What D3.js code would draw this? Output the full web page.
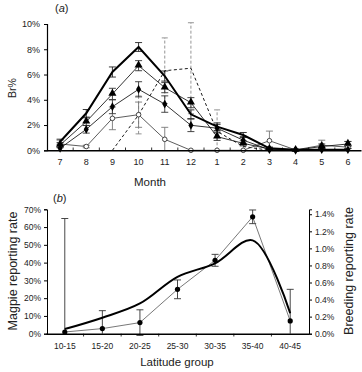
<!DOCTYPE html>
<html><head><meta charset="utf-8">
<script src="https://cdn.jsdelivr.net/npm/d3@7/dist/d3.min.js"></script>
<style>
body{margin:0;background:#fff;}
svg{display:block;font-family:"Liberation Sans",Arial,sans-serif;}
</style></head><body>
<svg id="c" width="362" height="372"></svg>
<script>
// ---------- Panel (a) data ----------
const months = ["7","8","9","10","11","12","1","2","3","4","5","6"];
const yTicksA = [0,2,4,6,8,10];
const thickA    = [0.68,2.93,6.2,8.18,5.88,2.85,1.87,1.21,0.16,0.05,0.05,0.05];
const thickAErr = [0.2,0.3,0.4,0.35,0.4,0.35,0.3,0.2,0.1,0.05,0.1,0.1];
const triA      = [0.42,2.27,4.46,6.7,4.96,3.77,1.08,0.55,0.1,0.02,0.3,0.5];
const triAErr   = [0.2,0.3,0.45,0.4,0.4,0.4,0.3,0.2,0.1,0.05,0.2,0.2];
const diaA      = [0.16,1.66,3.45,4.83,3.66,1.98,1.75,0.8,0.05,0,0.05,0.05];
const diaAErr   = [0.2,0.3,0.55,0.6,0.65,0.5,0.3,0.3,0.1,0.05,0.1,0.1];
const circA     = [0.5,0.3,2.53,2.82,0.87,0,0,0,0.76,0.03,0.4,0.25];
const circAErr  = [0.3,0.1,0.9,1.0,0.95,0,0,0,0.76,0,0.4,0.45];
const dashA     = [null,null,0,2.8,6.3,6.5,1.5,0.3,0,0,0,0];
const dashAErr  = [null,null,0,1.5,2.6,3.6,1.7,0.3,0,0,0,0];

// ---------- Panel (b) data ----------
const latGroups = ["10-15","15-20","20-25","25-30","30-35","35-40","40-45"];
const yTicksL = [0,10,20,30,40,50,60,70];
const yTicksR = [0,0.2,0.4,0.6,0.8,1.0,1.2,1.4];
const magpieRate   = [2.6,9.0,17.0,32.0,39.6,52.5,11.5];
const breedingRate = [0.02,0.06,0.13,0.52,0.86,1.37,0.15];
const breedingErr  = [1.33,0.21,0.15,0.11,0.07,0.08,0.37];

const svg = d3.select("#c");
const F = '"Liberation Sans",Arial,sans-serif';

// ================= Panel (a) =================
const xa = d3.scaleBand().domain(months).range([47,361]);
const ya = d3.scaleLinear().domain([0,10]).range([150.3,24]);
const ga = svg.append("g");

function errBars(g, x, y, vals, errs, color, dash, cap){
  months.forEach((m,i)=>{
    if(vals[i]==null || errs[i]==null || errs[i]===0) return;
    const cx = x(m)+x.bandwidth()/2;
    const lo = Math.max(0, vals[i]-errs[i]), hi = vals[i]+errs[i];
    g.append("line").attr("x1",cx).attr("x2",cx).attr("y1",y(lo)).attr("y2",y(hi))
      .attr("stroke",color).attr("stroke-width",0.9).attr("stroke-dasharray",dash||null);
    [hi, vals[i]-errs[i] >= 0 ? lo : null].forEach(v=>{
      if(v==null) return;
      g.append("line").attr("x1",cx-cap).attr("x2",cx+cap).attr("y1",y(v)).attr("y2",y(v))
        .attr("stroke",color).attr("stroke-width",0.9);
    });
  });
}

// axes
const axA = d3.axisLeft(ya).tickValues(yTicksA).tickSize(3).tickFormat(d=>d+"%");
const gya = ga.append("g").attr("transform","translate(47,0)").call(axA);
gya.select(".domain").attr("stroke","#000").attr("stroke-width",1.2);
gya.selectAll("text").attr("font-size",9).attr("font-family",F).attr("fill","#222").attr("dx",-1);
gya.selectAll(".tick line").attr("stroke","#000");

// error bars
errBars(ga, xa, ya, dashA, dashAErr, "#888", "3,2", 3);
errBars(ga, xa, ya, circA, circAErr, "#777", null, 3.5);
errBars(ga, xa, ya, diaA, diaAErr, "#333", null, 3.5);
errBars(ga, xa, ya, triA, triAErr, "#333", null, 3.5);
errBars(ga, xa, ya, thickA, thickAErr, "#222", null, 3.5);

const cxA = m => xa(m)+xa.bandwidth()/2;
const lineA = d3.line().defined(d=>d.v!=null).x(d=>cxA(d.m)).y(d=>ya(d.v));
const mk = arr => months.map((m,i)=>({m, v:arr[i]}));

ga.append("path").datum(mk(dashA)).attr("d",lineA).attr("fill","none").attr("stroke","#000").attr("stroke-width",0.9).attr("stroke-dasharray","3,2.5");
ga.append("path").datum(mk(circA)).attr("d",lineA).attr("fill","none").attr("stroke","#333").attr("stroke-width",0.8);
ga.append("path").datum(mk(diaA)).attr("d",lineA).attr("fill","none").attr("stroke","#000").attr("stroke-width",0.8);
ga.append("path").datum(mk(triA)).attr("d",lineA).attr("fill","none").attr("stroke","#000").attr("stroke-width",0.8);
ga.append("path").datum(mk(thickA)).attr("d",lineA).attr("fill","none").attr("stroke","#000").attr("stroke-width",2);

// markers
ga.selectAll(".circ").data(mk(circA)).enter().append("circle")
  .attr("cx",d=>cxA(d.m)).attr("cy",d=>ya(d.v)).attr("r",2.3)
  .attr("fill","#fff").attr("stroke","#333").attr("stroke-width",0.9);
ga.selectAll(".dia").data(mk(diaA)).enter().append("path")
  .attr("transform",d=>`translate(${cxA(d.m)},${ya(d.v)})`)
  .attr("d",d3.symbol(d3.symbolDiamond,22)).attr("fill","#000");
ga.selectAll(".tri").data(mk(triA)).enter().append("path")
  .attr("transform",d=>`translate(${cxA(d.m)},${ya(d.v)-0.5})`)
  .attr("d",d3.symbol(d3.symbolTriangle,28)).attr("fill","#000");

// x axis (a)
const axXA = d3.axisBottom(xa).tickSize(0).tickPadding(8);
const gxa = ga.append("g").attr("transform","translate(0,150.3)").call(axXA);
gxa.select(".domain").attr("stroke","#000").attr("stroke-width",1.5);
gxa.selectAll("text").attr("font-size",9).attr("font-family",F).attr("fill","#222");
ga.selectAll(".bt").data(months.slice(1)).enter().append("line")
  .attr("x1",d=>xa(d)).attr("x2",d=>xa(d)).attr("y1",150.3).attr("y2",147.5)
  .attr("stroke","#000").attr("stroke-width",0.8);

ga.append("text").attr("x",150).attr("y",186).attr("text-anchor","middle")
  .attr("font-size",11.5).attr("font-family",F).attr("fill","#222").text("Month");
ga.append("text").attr("transform","translate(16,88) rotate(-90)").attr("text-anchor","middle")
  .attr("font-size",10.5).attr("font-family",F).attr("fill","#222").text("Br%");
const ta = ga.append("text").attr("x",55).attr("y",12).attr("font-size",11).attr("font-family",F).attr("fill","#222");
ta.append("tspan").text("(");
ta.append("tspan").attr("font-style","italic").text("a");
ta.append("tspan").text(")");

// ================= Panel (b) =================
const xb = d3.scaleBand().domain(latGroups).range([46,309]);
const yL = d3.scaleLinear().domain([0,70]).range([333.7,209.3]);
const yR = d3.scaleLinear().domain([0,1.458]).range([333.7,209.3]);
const gb = svg.append("g");
const cxB = g => xb(g)+xb.bandwidth()/2;

const gyl = gb.append("g").attr("transform","translate(47,0)").call(d3.axisLeft(yL).tickValues(yTicksL).tickSize(3).tickFormat(d=>d+"%"));
gyl.select(".domain").attr("stroke","#000").attr("stroke-width",1);
gyl.selectAll("text").attr("font-size",8.5).attr("font-family",F).attr("fill","#222");
const gyr = gb.append("g").attr("transform","translate(309,0)").call(d3.axisRight(yR).tickValues(yTicksR).tickSize(3).tickFormat(d=>d.toFixed(1)+"%"));
gyr.select(".domain").attr("stroke","#000").attr("stroke-width",1);
gyr.selectAll("text").attr("font-size",8.5).attr("font-family",F).attr("fill","#222");

// error bars (b)
latGroups.forEach((g,i)=>{
  const cx = cxB(g), v = breedingRate[i], e = breedingErr[i];
  const lo = Math.max(0,v-e), hi = v+e;
  const lo2 = v-e < 0 && v-e > -0.05 ? v-e : lo;
  gb.append("line").attr("x1",cx).attr("x2",cx).attr("y1",yR(lo2)).attr("y2",yR(hi)).attr("stroke","#333").attr("stroke-width",0.9);
  gb.append("line").attr("x1",cx-3.5).attr("x2",cx+3.5).attr("y1",yR(hi)).attr("y2",yR(hi)).attr("stroke","#333").attr("stroke-width",0.9);
  if(v-e > -0.05) gb.append("line").attr("x1",cx-3.5).attr("x2",cx+3.5).attr("y1",yR(v-e)).attr("y2",yR(v-e)).attr("stroke","#333").attr("stroke-width",0.9);
});

const lineB = d3.line().x((d,i)=>cxB(latGroups[i])).y(d=>yR(d));
gb.append("path").datum(breedingRate).attr("d",lineB).attr("fill","none").attr("stroke","#555").attr("stroke-width",0.8);
const smooth = d3.line().x((d,i)=>cxB(latGroups[i])).y(d=>yL(d)).curve(d3.curveCatmullRom.alpha(0.5));
gb.append("path").datum(magpieRate).attr("d",smooth).attr("fill","none").attr("stroke","#000").attr("stroke-width",2);
gb.selectAll(".pt").data(breedingRate).enter().append("circle")
  .attr("cx",(d,i)=>cxB(latGroups[i])).attr("cy",d=>yR(d)).attr("r",2.6)
  .attr("fill","#000");

const gxb = gb.append("g").attr("transform","translate(0,333.7)").call(d3.axisBottom(xb).tickSize(0).tickPadding(9));
gxb.select(".domain").attr("stroke","#000").attr("stroke-width",1.5);
gxb.selectAll("text").attr("font-size",8.5).attr("font-family",F).attr("fill","#222");
gb.selectAll(".bt").data(latGroups.slice(1)).enter().append("line")
  .attr("x1",d=>xb(d)).attr("x2",d=>xb(d)).attr("y1",333.7).attr("y2",336.5)
  .attr("stroke","#000").attr("stroke-width",0.8);

gb.append("text").attr("x",177).attr("y",366).attr("text-anchor","middle")
  .attr("font-size",11.5).attr("font-family",F).attr("fill","#222").text("Latitude group");
gb.append("text").attr("transform","translate(17,271) rotate(-90)").attr("text-anchor","middle")
  .attr("font-size",12.5).attr("font-family",F).attr("fill","#222").text("Magpie reporting rate");
gb.append("text").attr("transform","translate(353,271) rotate(-90)").attr("text-anchor","middle")
  .attr("font-size",12.5).attr("font-family",F).attr("fill","#222").text("Breeding reporting rate");
const tb = gb.append("text").attr("x",53).attr("y",202).attr("font-size",11).attr("font-family",F).attr("fill","#222");
tb.append("tspan").text("(");
tb.append("tspan").attr("font-style","italic").text("b");
tb.append("tspan").text(")");
</script>
</body></html>
